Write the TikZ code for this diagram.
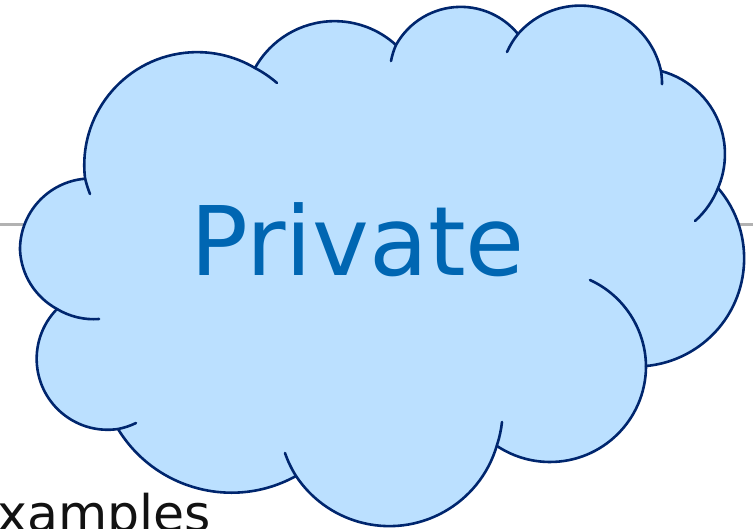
\documentclass[tikz,border=0pt]{standalone}
\usepackage{fontspec}
\setmainfont{DejaVu Sans}
\usetikzlibrary{svg.path}
\definecolor{cloudfill}{RGB}{187,224,255}
\definecolor{cloudline}{RGB}{0,38,110}
\definecolor{cloudtext}{RGB}{0,102,178}
\definecolor{rulegray}{RGB}{178,178,178}
\tikzset{
  bump/.style={draw=cloudline,line width=2.6pt,line cap=round},
  rulegrey/.style={draw=rulegray,line width=3pt},
  caption/.style={anchor=base west,inner sep=0pt,font=\fontsize{50.5}{50}\selectfont,text=black!93},
  title/.style={anchor=base,inner sep=0pt,font=\fontsize{96}{96}\selectfont,text=cloudtext}
}
\begin{document}
\begin{tikzpicture}[x=1pt,y=-1pt]
\useasboundingbox (0,0) rectangle (753,528);
\fill[white] (0,0) rectangle (753,528);
\coordinate (rl) at (0,224);
\coordinate (rr) at (753,224);
\draw[rulegrey] (rl) -- (rr);
\node[caption] (ex) at (-33,531) {examples};
\begin{scope}[yscale=-1]
\fill[cloudfill] svg "M 85 178 A 113 113 0 0 1 255 68 A 91 91 0 0 1 396 45 A 74 74 0 0 1 518 34 A 82.5 82.5 0 0 1 661 71 A 86 86 0 0 1 718 188 A 108 108 0 0 1 646 366 A 96 96 0 0 1 497 445 A 112 112 0 0 1 296 476 A 133 133 0 0 1 118 429 A 71 71 0 0 1 57 309 A 71 71 0 0 1 20 250 A 71 71 0 0 1 85 178 Z";
\draw[bump] svg "M 90 194 A 113 113 0 0 1 85 178 A 113 113 0 0 1 255 68 A 113 113 0 0 1 277 83";
\draw[bump] svg "M 255 68 A 91 91 0 0 1 396 45";
\draw[bump] svg "M 391 61 A 74 74 0 0 1 396 45 A 74 74 0 0 1 518 34";
\draw[bump] svg "M 507 52 A 82.5 82.5 0 0 1 518 34 A 82.5 82.5 0 0 1 661 71 A 82.5 82.5 0 0 1 662 85";
\draw[bump] svg "M 661 71 A 86 86 0 0 1 718 188 A 86 86 0 0 1 695 221";
\draw[bump] svg "M 718 188 A 108 108 0 0 1 646 366";
\draw[bump] svg "M 590 280 A 96 96 0 0 1 646 366 A 96 96 0 0 1 497 445";
\draw[bump] svg "M 502 422 A 112 112 0 0 1 497 445 A 112 112 0 0 1 296 476 A 112 112 0 0 1 285 453";
\draw[bump] svg "M 296 476 A 133 133 0 0 1 118 429";
\draw[bump] svg "M 136 423 A 71 71 0 0 1 118 429 A 71 71 0 0 1 57 309";
\draw[bump] svg "M 99 319 A 71 71 0 0 1 57 309 A 71 71 0 0 1 20 250 A 71 71 0 0 1 85 178";
\end{scope}
\node[title] (pv) at (357.5,275) {Private};
\end{tikzpicture}
\end{document}
